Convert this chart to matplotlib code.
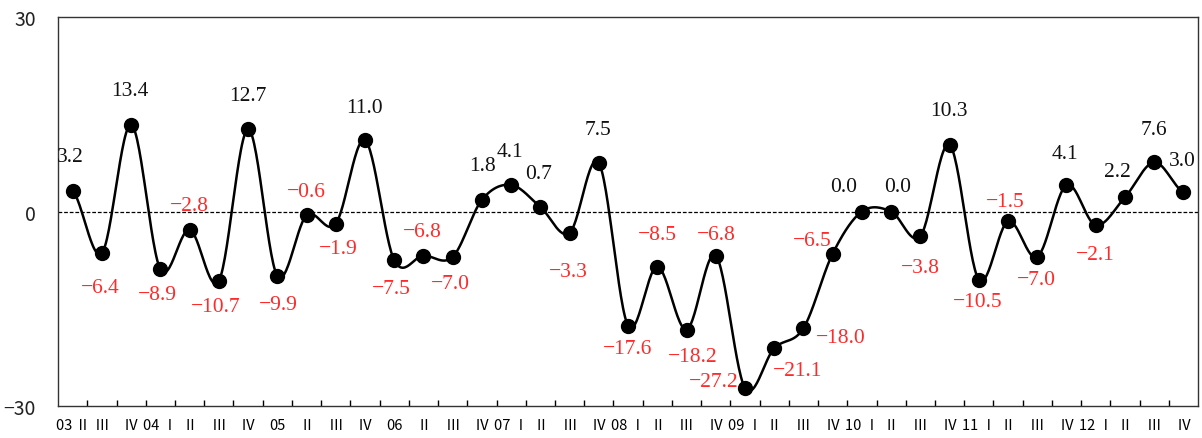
import numpy as np
import matplotlib.pyplot as plt

# quarterly values, 2003 Q2 .. 2012 Q4
quarters = ['03 Ⅱ', 'Ⅲ', 'Ⅳ', '04 Ⅰ', 'Ⅱ', 'Ⅲ', 'Ⅳ', '05', 'Ⅱ', 'Ⅲ', 'Ⅳ',
            '06', 'Ⅱ', 'Ⅲ', 'Ⅳ', '07 Ⅰ', 'Ⅱ', 'Ⅲ', 'Ⅳ', '08 Ⅰ', 'Ⅱ', 'Ⅲ', 'Ⅳ',
            '09 Ⅰ', 'Ⅱ', 'Ⅲ', 'Ⅳ', '10 Ⅰ', 'Ⅱ', 'Ⅲ', 'Ⅳ', '11 Ⅰ', 'Ⅱ', 'Ⅲ', 'Ⅳ',
            '12 Ⅰ', 'Ⅱ', 'Ⅲ', 'Ⅳ']
values = [3.2, -6.4, 13.4, -8.9, -2.8, -10.7, 12.7, -9.9, -0.6, -1.9, 11.0,
          -7.5, -6.8, -7.0, 1.8, 4.1, 0.7, -3.3, 7.5, -17.6, -8.5, -18.2, -6.8,
          -27.2, -21.1, -18.0, -6.5, 0.0, 0.0, -3.8, 10.3, -10.5, -1.5, -7.0,
          4.1, -2.1, 2.2, 7.6, 3.0]

# label offsets in pixels (dx, dy)
label_offsets = [(-2, 34), (-2, -34), (-1, 34), (-3, -25), (0, 24), (-3, -26),
                 (0, 34), (1, -29), (0, 24), (3, -25), (0, 33), (-3, -28),
                 (-1, 24), (-2, -27), (1, 34), (-1, 33), (-2, 33), (-1, -39),
                 (-1, 33), (0, -23), (0, 32), (6, -27), (1, 21), (-31, 6),
                 (23, -22), (37, -9), (-20, 13), (-18, 25), (7, 25), (0, -31),
                 (-1, 34), (-1, -22), (-3, 20), (-1, -23), (-2, 31), (0, -29),
                 (-8, 26), (0, 33), (-1, 32)]

x = np.arange(len(values))
y = np.array(values)

# smoothed line: cubic bezier segments with catmull-rom style control points
yp = np.concatenate([[y[0]], y, [y[-1]]])
t = np.linspace(0, 1, 30)
sx, sy = [], []
for i in range(len(y) - 1):
    p0, p3 = y[i], y[i + 1]
    p1 = p0 + (yp[i + 2] - yp[i]) / 6
    p2 = p3 - (yp[i + 3] - yp[i + 1]) / 6
    b = ((1 - t) ** 3 * p0 + 3 * (1 - t) ** 2 * t * p1
         + 3 * (1 - t) * t ** 2 * p2 + t ** 3 * p3)
    sx.append(x[i] + t)
    sy.append(b)
sx = np.concatenate(sx)
sy = np.concatenate(sy)

fig = plt.figure(figsize=(12.02, 4.39), dpi=100)
ax = fig.add_axes([0.0483, 0.0729, 0.9484, 0.886])

ax.axhline(0, color='black', lw=0.9, ls=(0, (3, 1.5)), zorder=1)
ax.plot(sx, sy, color='black', lw=1.8, zorder=2)
ax.plot(x, y, 'o', color='black', ms=10, zorder=3)

for i, v in enumerate(values):
    dx, dy = label_offsets[i]
    ax.annotate(f'{v:.1f}'.replace('-', '−'), (x[i], v), xytext=(dx, dy),
                textcoords='offset pixels', ha='center', va='center',
                fontsize=15.5, family='Liberation Serif',
                color='#ff2a2a' if v < 0 else '#111111', clip_on=True)

ax.set_xlim(-0.5, len(values) - 0.5)
ax.set_ylim(-30, 30)
ax.set_yticks([-30, 0, 30])
ax.set_yticklabels(['−30', '0', '30'], family='Noto Sans CJK JP', fontsize=14,
                   color='#222222')
ax.tick_params(axis='y', length=0, pad=16)

ax.set_xticks(x)
ax.set_xticklabels(quarters, family='Noto Sans CJK JP', fontsize=10.5)
ax.set_xticks(np.arange(0.5, len(values) - 1, 1), minor=True)
ax.tick_params(axis='x', which='major', length=0, pad=9)
ax.tick_params(axis='x', which='minor', direction='in', length=4, width=1)

for s in ax.spines.values():
    s.set_linewidth(1.0)
    s.set_color('#333333')

fig.savefig('out.png', dpi=100)
